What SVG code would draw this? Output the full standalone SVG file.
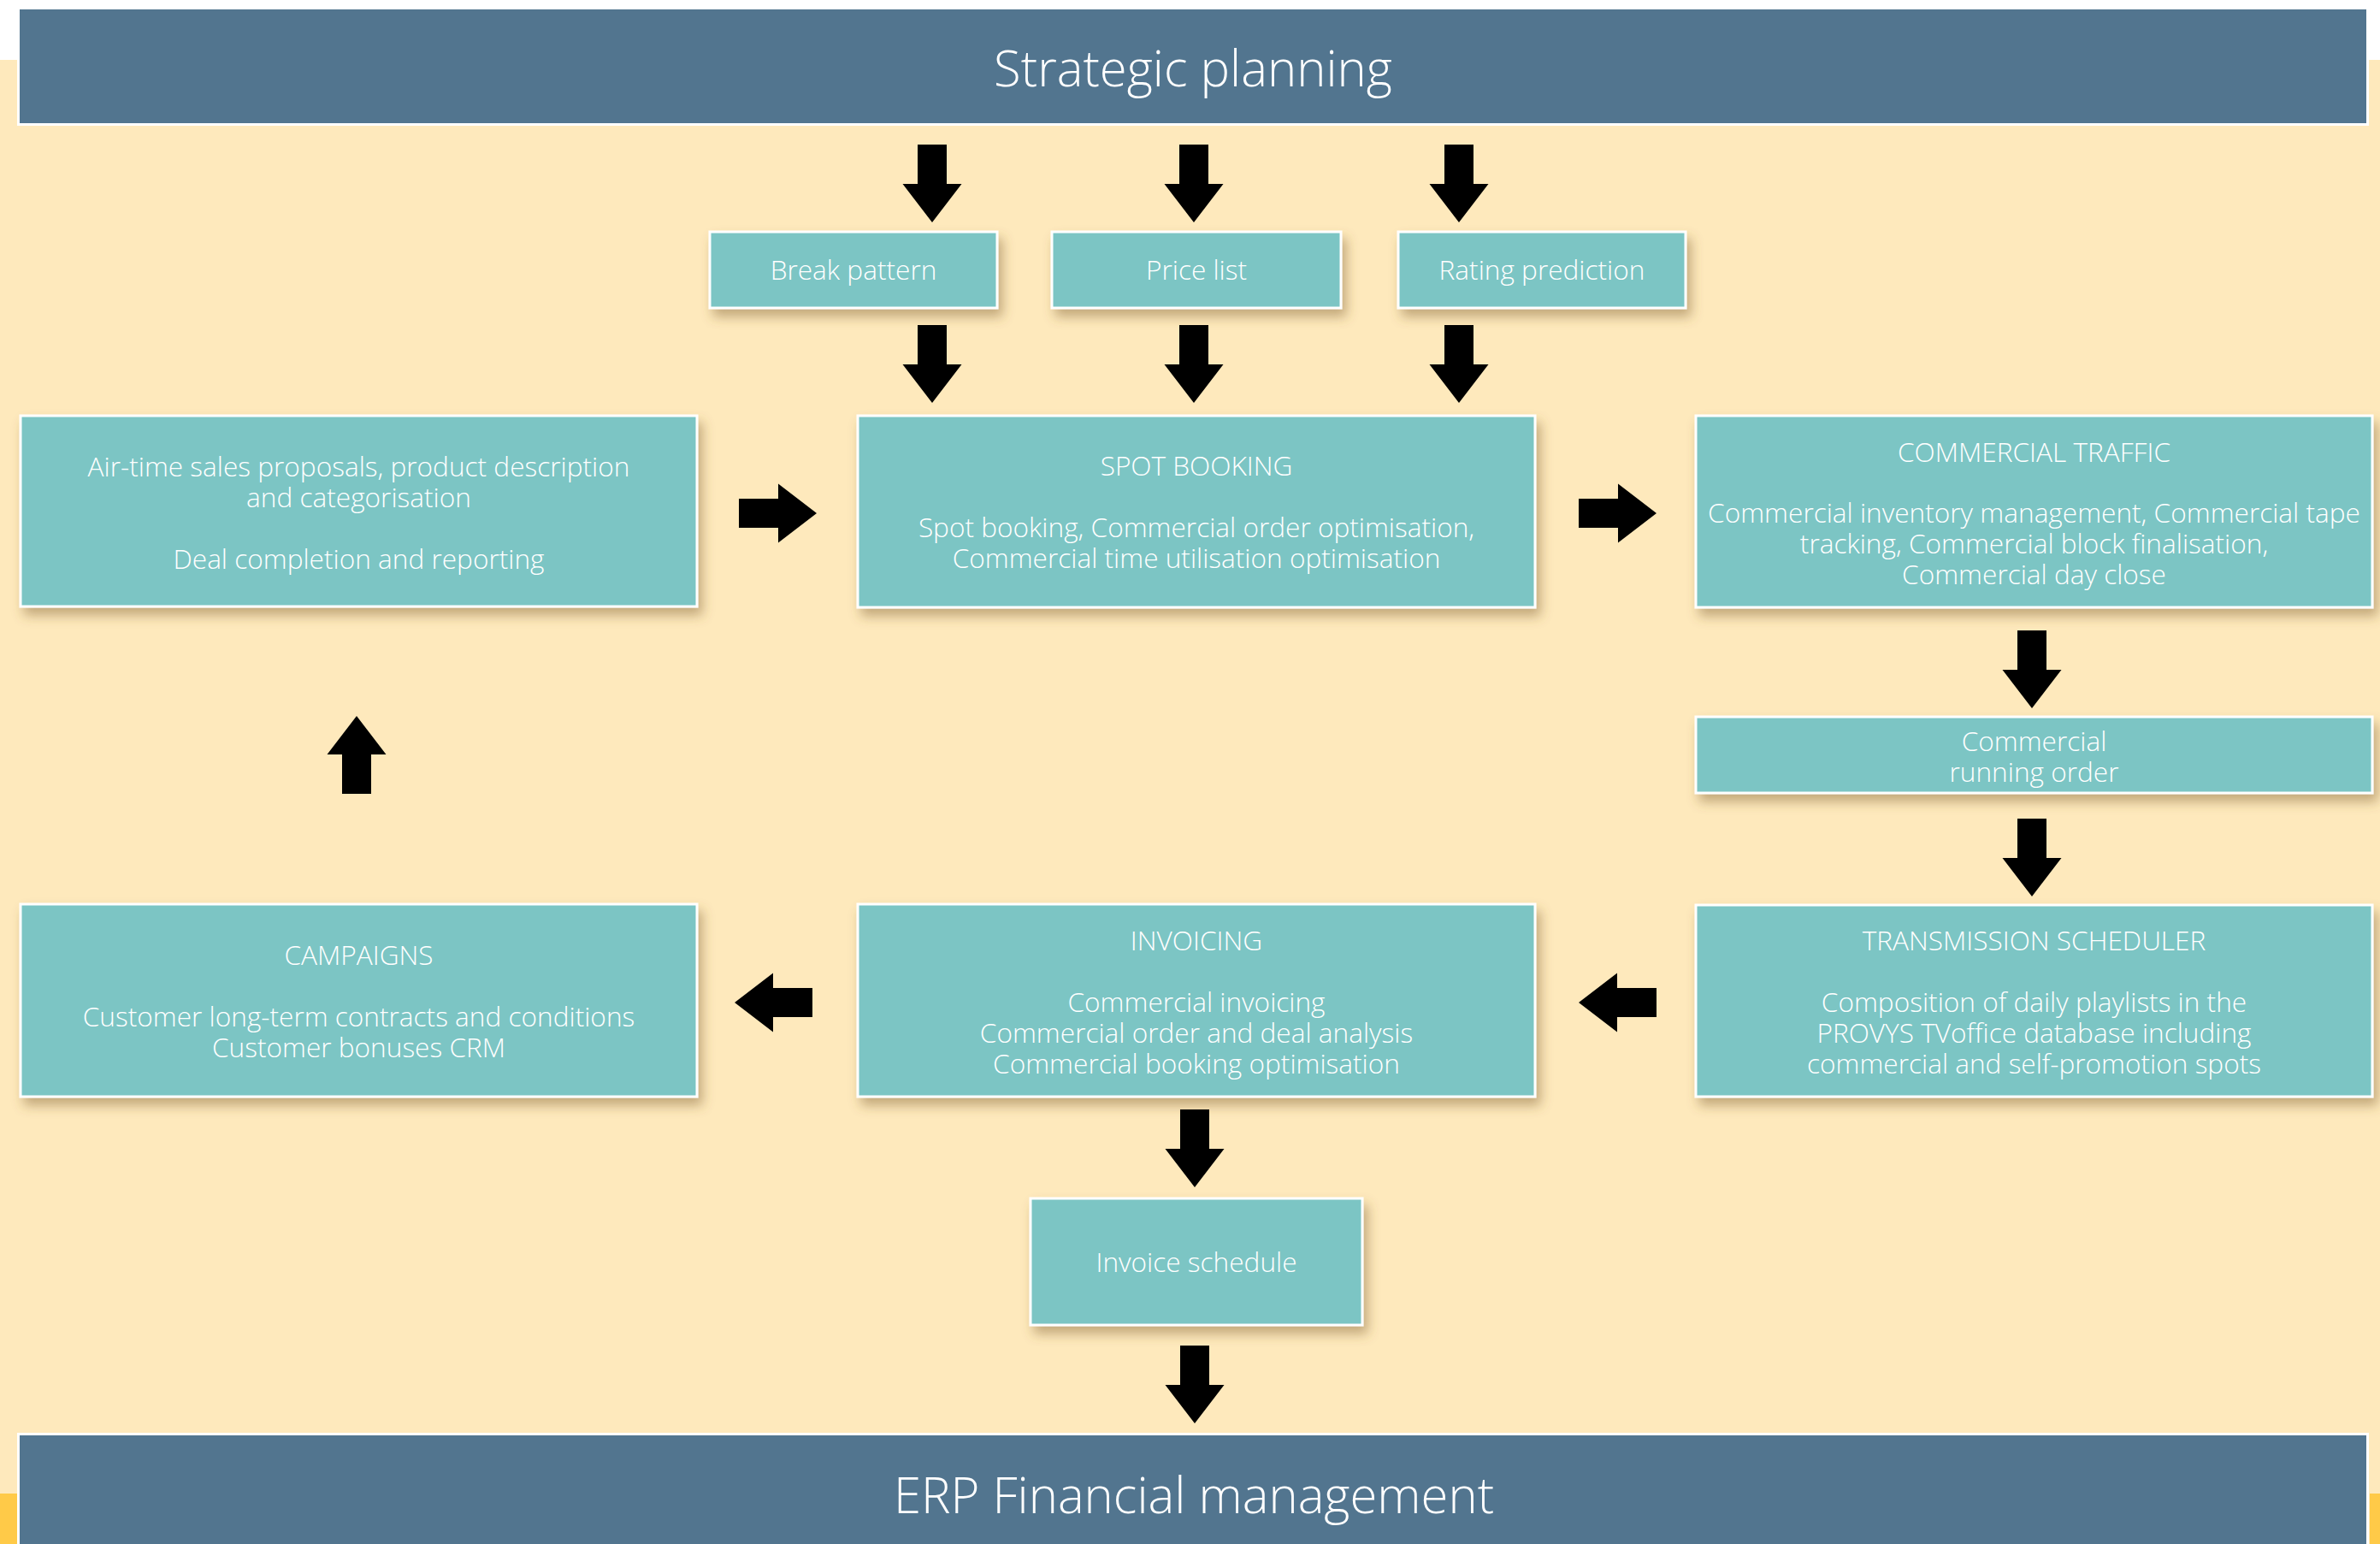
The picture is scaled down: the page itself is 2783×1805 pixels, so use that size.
<svg xmlns="http://www.w3.org/2000/svg" xmlns:xlink="http://www.w3.org/1999/xlink" width="2783" height="1805" viewBox="0 0 2783 1805">
<style>
.box{fill:#7CC5C4;stroke:#FFFFFF;stroke-width:3;filter:url(#sh)}
.banner{fill:#52758F;stroke:#FFFFFF;stroke-width:3}
.t{font-family:"Open Sans","Liberation Sans",sans-serif;font-size:31.6px;font-weight:300;fill:#FFFFFF;text-anchor:middle}
.bt{font-family:"Open Sans","Liberation Sans",sans-serif;font-size:58px;font-weight:300;fill:#FFFFFF;text-anchor:middle}
.arr{fill:#000000}
</style>
<defs>
<filter id="sh" x="-10%" y="-20%" width="125%" height="150%">
<feDropShadow dx="5" dy="9" stdDeviation="7" flood-color="#7a5a2a" flood-opacity="0.45"/>
</filter>
<path id="da" d="M-17,0 H17 V46 H34.5 L0,91 L-34.5,46 H-17 Z"/>
</defs>
<rect x="0" y="0" width="2783" height="1805" fill="#FFFFFF"/>
<rect x="0" y="70" width="2783" height="1735" fill="#FEE9BC"/>
<rect x="0" y="1746" width="20" height="59" fill="#FFCA48"/>
<rect x="2771" y="1746" width="12" height="59" fill="#FFCA48"/>

<g id="strategic-planning">
<rect class="banner" x="21.5" y="9.5" width="2747" height="136"/>
<text class="bt" x="1395" y="101">Strategic planning</text>
</g>
<g id="erp-financial-management">
<rect class="banner" x="21.5" y="1676.5" width="2747" height="140"/>
<text class="bt" x="1396" y="1769">ERP Financial management</text>
</g>

<g id="break-pattern">
<rect class="box" x="830" y="271" width="336" height="89"/>
<text class="t" x="998" y="327">Break pattern</text>
</g>
<g id="price-list">
<rect class="box" x="1230" y="271" width="338" height="89"/>
<text class="t" x="1399" y="327">Price list</text>
</g>
<g id="rating-prediction">
<rect class="box" x="1635" y="271" width="336" height="89"/>
<text class="t" x="1803" y="327">Rating prediction</text>
</g>

<g id="air-time-sales">
<rect class="box" x="24" y="486" width="791" height="223"/>
<text class="t"><tspan x="419.5" y="557">Air-time sales proposals, product description</tspan><tspan x="419.5" y="593">and categorisation</tspan><tspan x="419.5" y="665">Deal completion and reporting</tspan></text>
</g>
<g id="spot-booking">
<rect class="box" x="1003" y="486" width="792" height="224"/>
<text class="t"><tspan x="1399" y="556">SPOT BOOKING</tspan><tspan x="1399" y="628">Spot booking, Commercial order optimisation,</tspan><tspan x="1399" y="664">Commercial time utilisation optimisation</tspan></text>
</g>
<g id="commercial-traffic">
<rect class="box" x="1983" y="486" width="791" height="224"/>
<text class="t"><tspan x="2378.5" y="540">COMMERCIAL TRAFFIC</tspan><tspan x="2378.5" y="611">Commercial inventory management, Commercial tape</tspan><tspan x="2378.5" y="647">tracking, Commercial block finalisation,</tspan><tspan x="2378.5" y="683">Commercial day close</tspan></text>
</g>
<g id="commercial-running-order">
<rect class="box" x="1983" y="838" width="791" height="89"/>
<text class="t"><tspan x="2378.5" y="878">Commercial</tspan><tspan x="2378.5" y="914">running order</tspan></text>
</g>
<g id="campaigns">
<rect class="box" x="24" y="1057" width="791" height="225"/>
<text class="t"><tspan x="419.5" y="1128">CAMPAIGNS</tspan><tspan x="419.5" y="1200">Customer long-term contracts and conditions</tspan><tspan x="419.5" y="1236">Customer bonuses CRM</tspan></text>
</g>
<g id="invoicing">
<rect class="box" x="1003" y="1057" width="792" height="225"/>
<text class="t"><tspan x="1399" y="1111">INVOICING</tspan><tspan x="1399" y="1183">Commercial invoicing</tspan><tspan x="1399" y="1219">Commercial order and deal analysis</tspan><tspan x="1399" y="1255">Commercial booking optimisation</tspan></text>
</g>
<g id="transmission-scheduler">
<rect class="box" x="1983" y="1058" width="791" height="224"/>
<text class="t"><tspan x="2378.5" y="1111">TRANSMISSION SCHEDULER</tspan><tspan x="2378.5" y="1183">Composition of daily playlists in the</tspan><tspan x="2378.5" y="1219">PROVYS TVoffice database including</tspan><tspan x="2378.5" y="1255">commercial and self-promotion spots</tspan></text>
</g>
<g id="invoice-schedule">
<rect class="box" x="1205" y="1401" width="388" height="148"/>
<text class="t" x="1399" y="1487">Invoice schedule</text>
</g>

<g id="connectors" class="arr">
<use xlink:href="#da" transform="translate(1090,169)"/>
<use xlink:href="#da" transform="translate(1396,169)"/>
<use xlink:href="#da" transform="translate(1706,169)"/>
<use xlink:href="#da" transform="translate(1090,380)"/>
<use xlink:href="#da" transform="translate(1396,380)"/>
<use xlink:href="#da" transform="translate(1706,380)"/>
<use xlink:href="#da" transform="translate(2376,737)"/>
<use xlink:href="#da" transform="translate(2376,957)"/>
<use xlink:href="#da" transform="translate(1397,1297)"/>
<use xlink:href="#da" transform="translate(1397,1573)"/>
<use xlink:href="#da" transform="translate(864,600) rotate(-90)"/>
<use xlink:href="#da" transform="translate(1846,600) rotate(-90)"/>
<use xlink:href="#da" transform="translate(950,1172) rotate(90)"/>
<use xlink:href="#da" transform="translate(1937,1172) rotate(90)"/>
<use xlink:href="#da" transform="translate(417,928) rotate(180)"/>
</g>
</svg>
